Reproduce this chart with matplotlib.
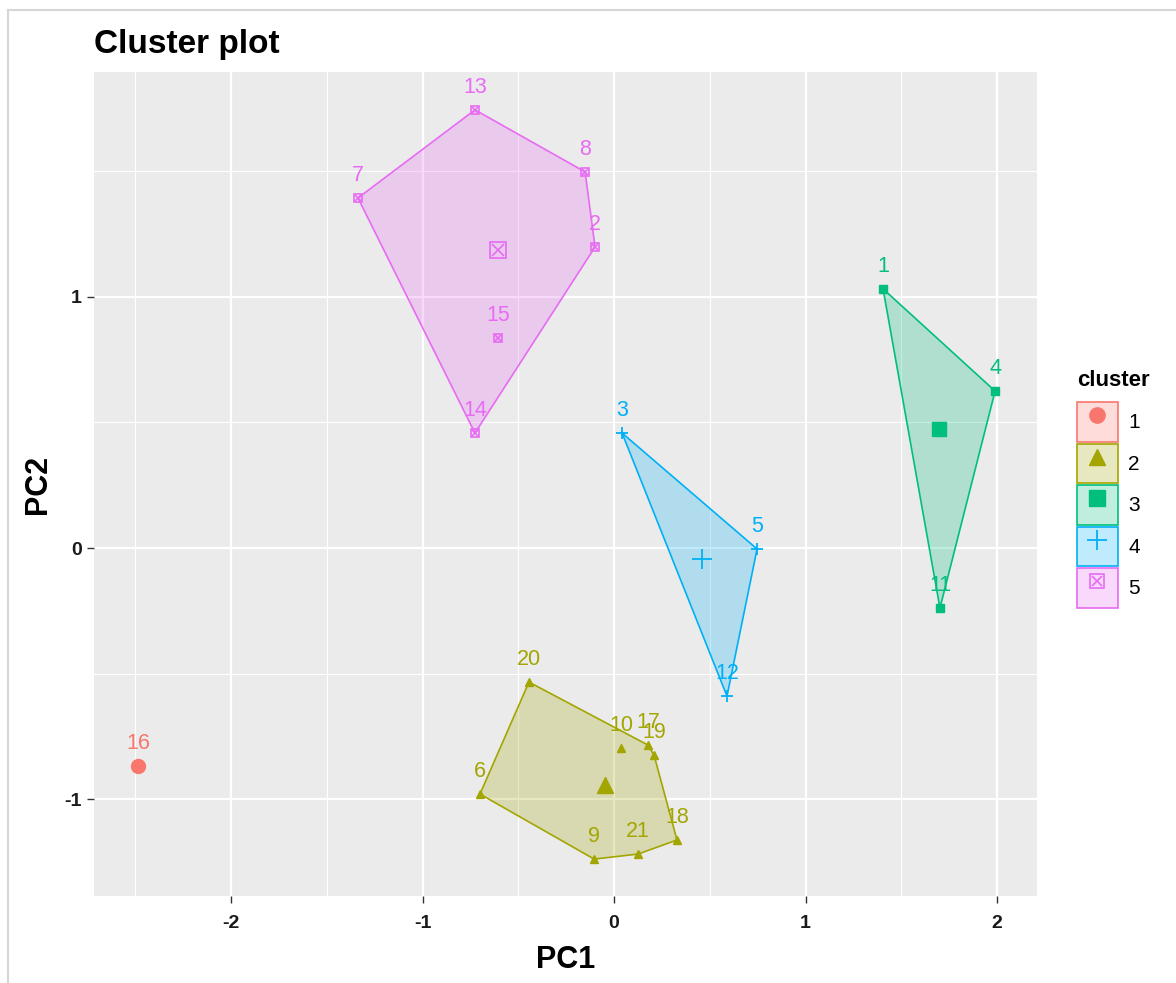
import numpy as np
import matplotlib
matplotlib.use('Agg')
import matplotlib.pyplot as plt
from matplotlib.patches import Rectangle
from matplotlib.lines import Line2D

plt.rcParams['font.family'] = ['Liberation Sans', 'DejaVu Sans']
plt.rcParams['axes.unicode_minus'] = False

# PCA coordinates of each observation, grouped by k-means cluster
cluster_names = ['1', '2', '3', '4', '5']
cluster_colors = ['#F8766D', '#A3A500', '#00BF7D', '#00B0F6', '#E76BF3']

ids_1 = [16]
pc1_1 = [-2.486]
pc2_1 = [-0.869]

ids_2 = [6, 9, 10, 17, 18, 19, 20, 21]
pc1_2 = [-0.700, -0.104, 0.037, 0.178, 0.329, 0.209, -0.444, 0.125]
pc2_2 = [-0.980, -1.239, -0.797, -0.785, -1.163, -0.825, -0.534, -1.219]

ids_3 = [1, 4, 11]
pc1_3 = [1.405, 1.990, 1.702]
pc2_3 = [1.032, 0.625, -0.239]

ids_4 = [3, 5, 12]
pc1_4 = [0.042, 0.747, 0.590]
pc2_4 = [0.458, -0.004, -0.590]

ids_5 = [2, 7, 8, 13, 14, 15]
pc1_5 = [-0.099, -1.337, -0.151, -0.726, -0.726, -0.606]
pc2_5 = [1.199, 1.394, 1.498, 1.745, 0.458, 0.837]

x_ticks = [-2, -1, 0, 1, 2]
y_ticks = [-1, 0, 1]

clusters = [
    (ids_1, pc1_1, pc2_1),
    (ids_2, pc1_2, pc2_2),
    (ids_3, pc1_3, pc2_3),
    (ids_4, pc1_4, pc2_4),
    (ids_5, pc1_5, pc2_5),
]

# point style per cluster: (marker, small size, centroid size)
STYLES = [('o', 7, 10), ('^', 6, 11), ('s', 5.5, 10), ('+', 9, 14), ('sx', 6, 12)]


def convex_hull(pts):
    pts = sorted(set(pts))
    if len(pts) < 3:
        return pts

    def cross(o, a, b):
        return (a[0] - o[0]) * (b[1] - o[1]) - (a[1] - o[1]) * (b[0] - o[0])

    lower, upper = [], []
    for p in pts:
        while len(lower) >= 2 and cross(lower[-2], lower[-1], p) <= 0:
            lower.pop()
        lower.append(p)
    for p in reversed(pts):
        while len(upper) >= 2 and cross(upper[-2], upper[-1], p) <= 0:
            upper.pop()
        upper.append(p)
    return lower[:-1] + upper[:-1]


def draw_marker(ax, x, y, marker, size, color, zorder=4):
    if marker == 'sx':
        ax.plot(x, y, 's', ms=size, mfc='none', mec=color, mew=1.2,
                ls='none', zorder=zorder)
        ax.plot(x, y, 'x', ms=size * 0.7, mec=color, mew=1.2,
                ls='none', zorder=zorder)
    elif marker == '+':
        ax.plot(x, y, '+', ms=size, mec=color, mew=1.3, ls='none', zorder=zorder)
    else:
        ax.plot(x, y, marker, ms=size, mfc=color, mec=color, ls='none', zorder=zorder)


fig = plt.figure(figsize=(11.76, 9.83), dpi=100)
ax = fig.add_axes([0.080, 0.0885, 0.802, 0.8383])
ax.set_facecolor('#EBEBEB')

for (ids, xs, ys), color, (marker, ms, cms) in zip(clusters, cluster_colors, STYLES):
    hull = convex_hull(list(zip(xs, ys)))
    if len(hull) >= 3:
        poly = plt.Polygon(hull, closed=True, facecolor=color, alpha=0.25,
                           edgecolor='none', zorder=2)
        ax.add_patch(poly)
        outline = plt.Polygon(hull, closed=True, facecolor='none',
                              edgecolor=color, lw=1.2, zorder=3)
        ax.add_patch(outline)
    draw_marker(ax, xs, ys, marker, ms, color)
    # cluster centre
    draw_marker(ax, [np.mean(xs)], [np.mean(ys)], marker, cms, color)
    for i, x, y in zip(ids, xs, ys):
        ax.annotate(str(i), (x, y), xytext=(0, 16), textcoords='offset points',
                    ha='center', va='center', color=color, fontsize=15.5, zorder=5)

ax.set_xlim(-2.715, 2.21)
ax.set_ylim(-1.386, 1.896)
ax.set_xticks(x_ticks)
ax.set_yticks(y_ticks)
ax.set_xticks([-2.5, -1.5, -0.5, 0.5, 1.5], minor=True)
ax.set_yticks([-0.5, 0.5, 1.5], minor=True)
ax.grid(which='major', color='white', lw=1.6)
ax.grid(which='minor', color='white', lw=0.8)
ax.set_axisbelow(True)
for s in ax.spines.values():
    s.set_visible(False)
ax.tick_params(which='major', length=5, width=1, color='#333333',
               labelsize=14, labelcolor='#1a1a1a')
ax.tick_params(axis='x', which='major', pad=9)
ax.tick_params(axis='y', which='major', pad=4)
ax.tick_params(which='minor', length=0)
for lbl in ax.get_xticklabels() + ax.get_yticklabels():
    lbl.set_fontweight('bold')

ax.set_xlabel('PC1', fontsize=22, fontweight='bold', labelpad=9)
ax.set_ylabel('PC2', fontsize=22, fontweight='bold', labelpad=8)
ax.set_title('Cluster plot', loc='left', fontsize=24, fontweight='bold', pad=14)

# legend: filled key box with the cluster's marker on top
handles = []
for color, (marker, ms, cms) in zip(cluster_colors, STYLES):
    box = Rectangle((0, 0), 1, 1, facecolor=color, alpha=0.25, edgecolor='none')
    edge = Rectangle((0, 0), 1, 1, facecolor='none', edgecolor=color, lw=1.2)
    if marker == 'sx':
        m = (Line2D([], [], marker='s', ms=10, mfc='none', mec=color, mew=1.2, ls='none'),
             Line2D([], [], marker='x', ms=7, mec=color, mew=1.2, ls='none'))
    elif marker == '+':
        m = (Line2D([], [], marker='+', ms=15, mec=color, mew=1.3, ls='none'),)
    else:
        m = (Line2D([], [], marker=marker, ms=11, mfc=color, mec=color, ls='none'),)
    handles.append((box, edge) + m)

fig.text(1077 / 1176, 1 - 380 / 983, 'cluster', fontsize=16, fontweight='bold',
         ha='left', va='center')
fig.legend(handles, cluster_names, loc='upper left',
           bbox_to_anchor=(1077 / 1176, 1 - 402 / 983), frameon=False,
           fontsize=15, handlelength=1.95, handleheight=2.55, labelspacing=0.09,
           handletextpad=0.5, borderpad=0, borderaxespad=0)

# thin frame along the top and left edges of the canvas
fig.add_artist(Line2D([8 / 1176, 1], [1 - 10 / 983] * 2, color='#d6d6d6', lw=1.5))
fig.add_artist(Line2D([8 / 1176] * 2, [0, 1 - 10 / 983], color='#d6d6d6', lw=1.5))

fig.savefig('out.png', dpi=100, facecolor='white')
